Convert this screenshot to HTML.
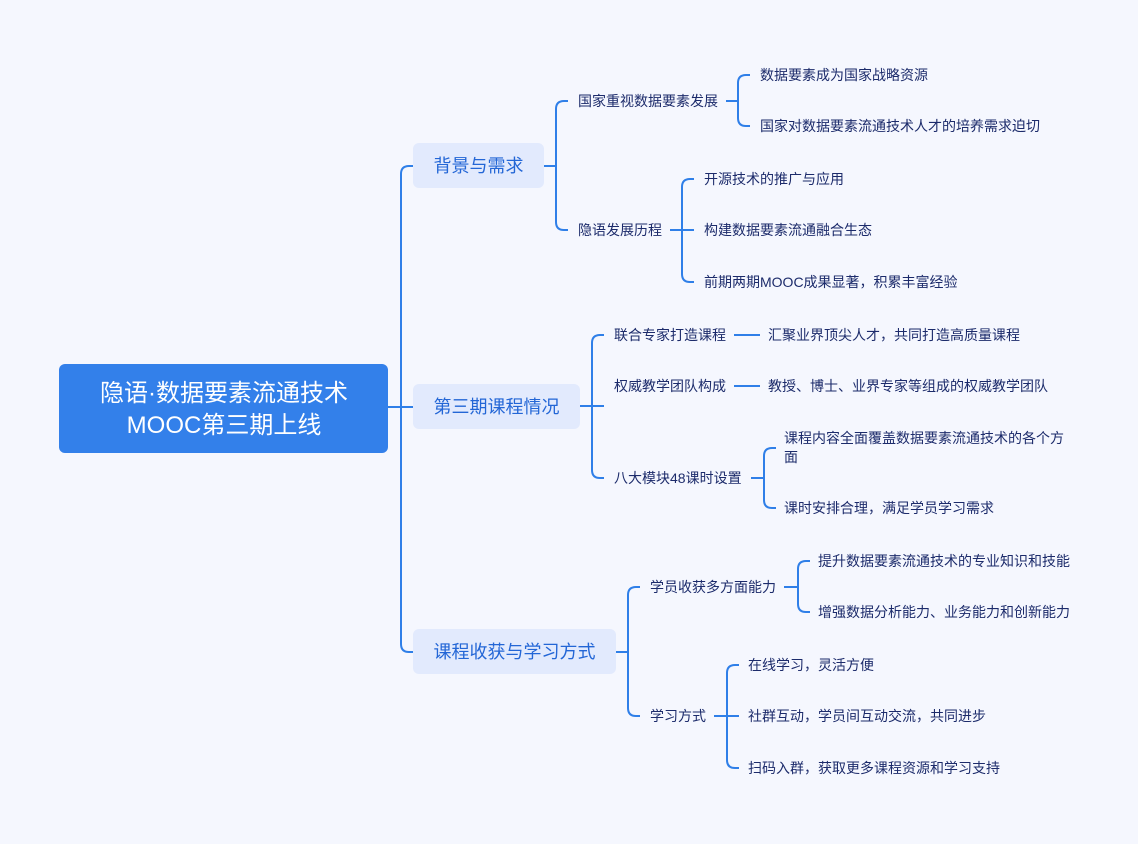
<!DOCTYPE html>
<html><head><meta charset="utf-8"><style>
html,body{margin:0;padding:0;background:#f5f7fe;}
svg{display:block;}
text{font-family:"Liberation Sans","Noto Sans CJK SC",sans-serif;}
.l{font-size:14px;fill:#1c2b6b;}
.b{font-size:18px;fill:#2366d6;}
path{fill:none;stroke:#2f7fe8;stroke-width:2;}
</style></head><body>
<svg width="1138" height="844" viewBox="0 0 1138 844">
<rect x="0" y="0" width="1138" height="844" fill="#f5f7fe"/>
<rect x="59" y="364" width="329" height="89" rx="6" fill="#3380ea"/>
<text x="224" y="401" text-anchor="middle" fill="#fff" font-size="24" style="font-family:'Liberation Sans','Noto Sans CJK SC',sans-serif">隐语·数据要素流通技术</text>
<text x="224" y="433" text-anchor="middle" fill="#fff" font-size="24" style="font-family:'Liberation Sans','Noto Sans CJK SC',sans-serif">MOOC第三期上线</text>
<path d="M388 407 H401 M413 166 H409 Q401 166 401 174 V644 Q401 652 409 652 H413 M401 407 H413"/>
<rect x="413" y="143" width="131" height="45" rx="6" fill="#e2eafd"/>
<text x="478.5" y="172" text-anchor="middle" class="b">背景与需求</text>
<rect x="413" y="384" width="167" height="45" rx="6" fill="#e2eafd"/>
<text x="496.5" y="413" text-anchor="middle" class="b">第三期课程情况</text>
<rect x="413" y="629" width="203" height="45" rx="6" fill="#e2eafd"/>
<text x="514.5" y="658" text-anchor="middle" class="b">课程收获与学习方式</text>

<path d="M544 166 H556 M568 101 H564 Q556 101 556 109 V222 Q556 230 564 230 H568"/>
<text x="578" y="106" class="l">国家重视数据要素发展</text>
<text x="578" y="235" class="l">隐语发展历程</text>
<path d="M726 101 H738 M750 75 H746 Q738 75 738 83 V118 Q738 126 746 126 H750"/>
<text x="760" y="80" class="l">数据要素成为国家战略资源</text>
<text x="760" y="131" class="l">国家对数据要素流通技术人才的培养需求迫切</text>
<path d="M670 230 H694 M694 179 H690 Q682 179 682 187 V274 Q682 282 690 282 H694"/>
<text x="704" y="184" class="l">开源技术的推广与应用</text>
<text x="704" y="235" class="l">构建数据要素流通融合生态</text>
<text x="704" y="287" class="l">前期两期MOOC成果显著，积累丰富经验</text>

<path d="M580 406 H604 M604 335 H600 Q592 335 592 343 V470 Q592 478 600 478 H604"/>
<text x="614" y="340" class="l">联合专家打造课程</text>
<text x="614" y="391" class="l">权威教学团队构成</text>
<text x="614" y="483" class="l">八大模块48课时设置</text>
<path d="M734 335 H760 M734 386 H760"/>
<text x="768" y="340" class="l">汇聚业界顶尖人才，共同打造高质量课程</text>
<text x="768" y="391" class="l">教授、博士、业界专家等组成的权威教学团队</text>
<path d="M751 478 H764 M776 448 H772 Q764 448 764 456 V500 Q764 508 772 508 H776"/>
<text x="784" y="443" class="l">课程内容全面覆盖数据要素流通技术的各个方</text>
<text x="784" y="462" class="l">面</text>
<text x="784" y="513" class="l">课时安排合理，满足学员学习需求</text>

<path d="M616 652 H628 M640 587 H636 Q628 587 628 595 V708 Q628 716 636 716 H640"/>
<text x="650" y="592" class="l">学员收获多方面能力</text>
<text x="650" y="721" class="l">学习方式</text>
<path d="M784 587 H798 M810 561 H806 Q798 561 798 569 V604 Q798 612 806 612 H810"/>
<text x="818" y="566" class="l">提升数据要素流通技术的专业知识和技能</text>
<text x="818" y="617" class="l">增强数据分析能力、业务能力和创新能力</text>
<path d="M714 716 H739 M739 665 H735 Q727 665 727 673 V760 Q727 768 735 768 H739"/>
<text x="748" y="670" class="l">在线学习，灵活方便</text>
<text x="748" y="721" class="l">社群互动，学员间互动交流，共同进步</text>
<text x="748" y="773" class="l">扫码入群，获取更多课程资源和学习支持</text>
</svg>
</body></html>
